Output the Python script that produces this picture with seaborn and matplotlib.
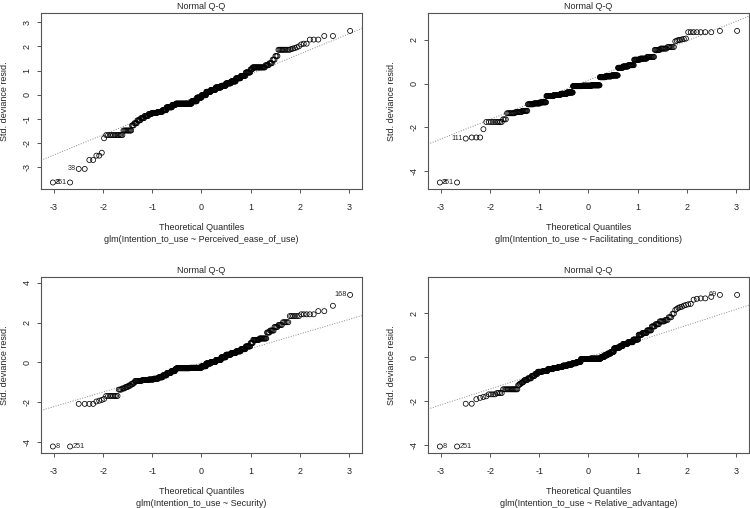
import numpy as np
import pandas as pd
import matplotlib
matplotlib.use("Agg")
import matplotlib.pyplot as plt
import seaborn as sns
from statistics import NormalDist

# sorted std. deviance residuals, stored as runs (level, how many points)
ease_vals = [-3.63, -3.07, -2.70, -2.52, -2.40, -1.80, -1.67, -1.48, -1.27, -1.18, -1.06, -0.97,
             -0.88, -0.80, -0.75, -0.71, -0.64, -0.52, -0.42, -0.37, -0.27, -0.12, -0.02, 0.12,
             0.20, 0.30, 0.37, 0.47, 0.55, 0.68, 0.78, 0.92, 1.05, 1.13, 1.22, 1.30, 1.45, 1.60,
             1.86, 1.89, 1.91, 1.93, 1.96, 2.00, 2.08, 2.11, 2.28, 2.43, 2.64]
ease_counts = [2, 2, 2, 2, 1, 1, 12, 9, 3, 4, 5, 6,
               7, 6, 12, 11, 10, 15, 10, 48, 17, 15, 15, 15,
               15, 17, 14, 14, 13, 12, 11, 10, 4, 21, 5, 4, 3, 3,
               10, 1, 1, 1, 1, 1, 1, 2, 3, 2, 1]

fac_vals = [-4.53, -2.52, -2.47, -2.09, -1.76, -1.64, -1.36, -1.31, -1.25, -0.95, -0.91, -0.86,
            -0.57, -0.52, -0.47, -0.41, -0.12, -0.10, -0.08, 0.29, 0.33, 0.37, 0.72, 0.78, 0.84,
            1.09, 1.14, 1.22, 1.54, 1.60, 1.67, 1.93, 1.96, 1.99, 2.00, 2.02, 2.04, 2.06,
            2.35, 2.41]
fac_counts = [2, 1, 3, 1, 9, 3, 8, 8, 8, 10, 12, 13,
              18, 18, 18, 18, 30, 30, 26, 18, 18, 18, 13, 13, 13,
              12, 12, 11, 7, 7, 6, 1, 1, 1, 1, 1, 1, 1,
              7, 2]

sec_vals = [-4.25, -2.10, -1.98, -1.94, -1.90, -1.85, -1.70, -1.38, -1.32, -1.25, -1.18, -1.10,
            -1.03, -0.94, -0.90, -0.87, -0.83, -0.76, -0.66, -0.54, -0.45, -0.35, -0.30, -0.28,
            -0.20, -0.06, 0.02, 0.12, 0.25, 0.38, 0.46, 0.55, 0.66, 0.80, 0.97, 1.13, 1.20,
            1.50, 1.60, 1.78, 1.88, 2.02, 2.33, 2.42, 2.58, 2.85, 3.40]
sec_counts = [2, 4, 1, 1, 1, 1, 8, 3, 3, 3, 3, 3,
              2, 10, 11, 10, 10, 10, 10, 11, 11, 4, 40, 38,
              15, 15, 16, 16, 14, 14, 13, 12, 11, 10, 5, 11, 11,
              4, 5, 4, 4, 5, 6, 5, 2, 1, 1]

rel_vals = [-4.08, -2.13, -1.92, -1.86, -1.82, -1.79, -1.70, -1.64, -1.47, -1.28, -1.22, -1.17,
            -1.13, -1.05, -0.97, -0.86, -0.77, -0.67, -0.64, -0.55, -0.50, -0.45, -0.39, -0.34,
            -0.28, -0.22, -0.09, -0.07, 0.00, 0.08, 0.16, 0.24, 0.40, 0.43, 0.50, 0.60, 0.68,
            0.80, 1.02, 1.10, 1.22, 1.40, 1.50, 1.63, 1.70, 1.82, 1.98, 2.15, 2.20, 2.25, 2.28,
            2.30, 2.35, 2.38, 2.41, 2.43, 2.62, 2.66, 2.68, 2.75, 2.84]
rel_counts = [2, 2, 1, 1, 1, 1, 4, 4, 14, 2, 2, 2,
              2, 5, 6, 6, 5, 10, 11, 13, 13, 13, 14, 14,
              14, 13, 30, 35, 10, 10, 10, 9, 8, 8, 8, 12, 12,
              11, 7, 8, 7, 5, 5, 6, 3, 3, 2, 1, 1, 1, 1,
              1, 1, 1, 1, 1, 1, 1, 2, 1, 2]

panel_vals = [ease_vals, fac_vals, sec_vals, rel_vals]
panel_counts = [ease_counts, fac_counts, sec_counts, rel_counts]
predictors = ["Perceived_ease_of_use", "Facilitating_conditions", "Security", "Relative_advantage"]

# dotted reference line
line_intercepts = [0.015, 0.155, -0.037, 0.0]
line_slopes = [0.835, 0.897, 0.733, 0.726]

# labelled observations: position in sorted order and case number
label_pos = [[0, 1, 2], [0, 1, 2], [0, 1, -1], [0, 1, -2]]
label_ids = [["8", "251", "38"], ["8", "251", "111"], ["8", "251", "168"], ["8", "251", "69"]]

x_ticks = [-3, -2, -1, 0, 1, 2, 3]
y_ticks = [[-3, -2, -1, 0, 1, 2, 3], [-4, -2, 0, 2], [-4, -2, 0, 2, 4], [-4, -2, 0, 2]]

sns.set_style("white")
plt.rcParams["font.family"] = ["Liberation Sans", "DejaVu Sans"]
plt.rcParams["font.size"] = 6.5

fig = plt.figure(figsize=(7.5, 5.08), dpi=100)
corners = [(41, 13), (428, 13), (41, 277), (428, 277)]
W, H = 321, 176

for k in range(4):
    resid = np.repeat(panel_vals[k], panel_counts[k])
    n = len(resid)
    theo = [NormalDist().inv_cdf((i + 0.5) / n) for i in range(n)]
    df = pd.DataFrame({"theo": theo, "resid": resid})

    left, top = corners[k]
    ax = fig.add_axes([left / 750, 1 - (top + H) / 508, W / 750, H / 508])

    sns.scatterplot(data=df, x="theo", y="resid", ax=ax, marker="o", s=13,
                    facecolor="none", edgecolor="black", linewidth=0.55, legend=False, zorder=3)
    ax.axline((0, line_intercepts[k]), slope=line_slopes[k], color="#8a8a8a",
              lw=0.7, ls=(0, (1, 1.6)), zorder=2)

    for p, txt in zip(label_pos[k], label_ids[k]):
        px, py = df["theo"].iloc[p], df["resid"].iloc[p]
        xs = [df["theo"].iloc[q] for q in label_pos[k]]
        right = px < (min(xs) + max(xs)) / 2
        ax.annotate(txt, (px, py), xytext=(2.2 if right else -2.2, 0), textcoords="offset points",
                    ha="left" if right else "right", va="center", fontsize=5.2, color="#222222")

    # R style limits: 4% padding, extra room on top for labels
    xr = df["theo"].max() - df["theo"].min()
    ax.set_xlim(df["theo"].min() - 0.04 * xr, df["theo"].max() + 0.04 * xr)
    ylo, yhi = df["resid"].min(), df["resid"].max()
    yhi = yhi + 0.075 * (yhi - ylo)
    yr = yhi - ylo
    ax.set_ylim(ylo - 0.04 * yr, yhi + 0.04 * yr)

    ax.set_xticks(x_ticks)
    ax.set_yticks(y_ticks[k])
    ax.set_xticklabels([str(t) for t in x_ticks])
    ax.set_yticklabels([str(t) for t in y_ticks[k]])
    ax.tick_params(axis="x", direction="out", length=3.2, width=0.7, color="#555555", pad=7, labelsize=6.5)
    ax.tick_params(axis="y", direction="out", length=3.2, width=0.7, color="#555555", pad=3.5,
                   labelsize=6.5, labelrotation=90)
    for lbl in ax.get_yticklabels():
        lbl.set_va("center")
    ax.xaxis.set_ticks_position("bottom")
    ax.yaxis.set_ticks_position("left")
    for s in ax.spines.values():
        s.set_color("#555555")
        s.set_linewidth(0.8)

    ax.set_title("Normal Q-Q", fontsize=6.5, pad=3)
    ax.set_xlabel("Theoretical Quantiles", fontsize=6.5)
    ax.xaxis.set_label_coords(0.5, -38 / H)
    ax.xaxis.label.set_va("center")
    ax.set_ylabel("Std. deviance resid.", fontsize=6.5)
    ax.yaxis.set_label_coords(-36 / W, 0.5)
    ax.yaxis.label.set_va("center")
    ax.text(0.5, -50 / H, "glm(Intention_to_use ~ " + predictors[k] + ")", transform=ax.transAxes,
            ha="center", va="center", fontsize=6.5)

fig.savefig("out.png", dpi=100)
